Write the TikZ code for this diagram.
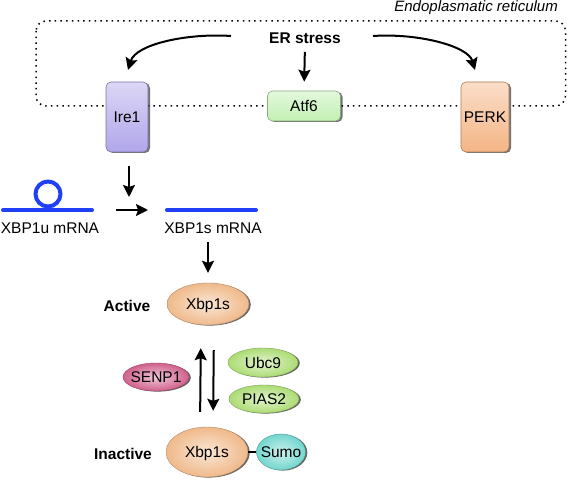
\documentclass[tikz,border=0pt]{standalone}
\usepackage{fontspec}
\setmainfont{Liberation Sans}
\usetikzlibrary{arrows.meta,shapes.geometric,shadows}
\definecolor{irec}{HTML}{B0A6EA}
\definecolor{atfc}{HTML}{C2F0B2}
\definecolor{perkc}{HTML}{F4B585}
\definecolor{xbpc}{HTML}{F0B98A}
\definecolor{senpc}{HTML}{D0608C}
\definecolor{ubcc}{HTML}{ACDC74}
\definecolor{sumoc}{HTML}{72D6CE}
\definecolor{rnac}{HTML}{2040F8}
\tikzset{
  txt/.style={font=\fontsize{15.5}{18}\selectfont, inner sep=0pt, text height=11pt, text depth=0pt},
  arr/.style={line width=2pt, -{Stealth[length=12pt,width=12pt,inset=2pt]}},
  boxnode/.style={txt, rectangle, rounded corners=5pt, draw=#1!70!black, line width=0.6pt,
    top color=#1!45!white, bottom color=#1, 
    drop shadow={shadow xshift=2pt, shadow yshift=-1pt, opacity=0.55, fill=black}},
  ellnode/.style={txt, ellipse, inner xsep=-7pt, inner ysep=-6pt, draw=#1!75!black, line width=0.4pt,
    inner color=#1!35!white, outer color=#1,
    drop shadow={shadow xshift=1.8pt, shadow yshift=-0.6pt, opacity=0.6, fill=black}},
  rna/.style={rnac, line width=4pt, line cap=round},
}
\begin{document}
\begin{tikzpicture}[x=1pt,y=-1pt]
\useasboundingbox (0,0) rectangle (567,481);
\fill[white] (0,0) rectangle (567,481);

% ER membrane
\draw[dash pattern=on 1.5pt off 4.2pt, line width=1.5pt, rounded corners=10pt] (36,21) rectangle (565.5,106);
\node[txt, font=\fontsize{15}{18}\selectfont\itshape, anchor=base east] (erlab) at (558,12) {Endoplasmatic reticulum};

\node[txt, font=\fontsize{15.5}{18}\selectfont\bfseries, anchor=base] (er) at (305,44) {ER stress};

\node[boxnode=irec, minimum width=42pt, minimum height=70pt] (ire) at (127,117) {Ire1};
\node[boxnode=atfc, minimum width=73pt, minimum height=30pt] (atf) at (304,106) {Atf6};
\node[boxnode=perkc, minimum width=48pt, minimum height=70pt] (perk) at (485,117) {PERK};

\coordinate (c1) at (231,36);
\coordinate (t1) at (128,70);
\coordinate (c2) at (373,36);
\coordinate (t2) at (475,70);
\draw[arr] (c1) .. controls (188,33) and (136,44) .. (t1);
\draw[arr] (c2) .. controls (418,33) and (468,46) .. (t2);
\draw[arr, shorten <=8pt, shorten >=9pt] (er.base) -- (atf.north);

% mRNA
\coordinate (u1) at (3,210);
\coordinate (u2) at (92,210);
\coordinate (s1) at (167,210);
\coordinate (s2) at (256,210);
\draw[rna] (u1) -- (u2);
\draw[rnac, line width=4pt] (48,194) circle[radius=12.5];
\draw[rna] (s1) -- (s2);
\node[txt, anchor=base] (xu) at (50,233) {XBP1u mRNA};
\node[txt, anchor=base] (xs) at (213,233) {XBP1s mRNA};

\coordinate (cut) at (129,197);
\draw[arr, shorten <=14pt] (ire.south -| cut) -- (cut);
\draw[arr, shorten <=24pt, shorten >=19pt] (u2) -- (s1);

% proteins
\node[ellnode=xbpc, minimum width=82pt, minimum height=42pt] (act) at (208,304) {Xbp1s};
\node[ellnode=xbpc, minimum width=82pt, minimum height=50pt] (inact) at (207,452) {Xbp1s};
\node[ellnode=sumoc, minimum width=49pt, minimum height=36pt] (sumo) at (281,452) {Sumo};
\node[ellnode=senpc, minimum width=66pt, minimum height=28pt] (senp) at (156,377) {SENP1};
\node[ellnode=ubcc, minimum width=70pt, minimum height=29pt] (ubc) at (263,362.5) {Ubc9};
\node[ellnode=ubcc, minimum width=70pt, minimum height=28pt] (pias) at (264,399) {PIAS2};

\node[txt, font=\fontsize{15.5}{18}\selectfont\bfseries, anchor=base] (actlab) at (127,311) {Active};
\node[txt, font=\fontsize{15.5}{18}\selectfont\bfseries, anchor=base] (inactlab) at (123,459) {Inactive};

\draw[arr, shorten <=9pt, shorten >=10pt] (act.north |- xs.base) -- (act.north);
\draw[arr, shorten <=15pt, shorten >=23pt] ([xshift=-7pt]inact.north) -- ([xshift=-7pt]act.south);
\draw[arr, shorten <=25pt, shorten >=16pt] ([xshift=6pt]act.south) -- ([xshift=6pt]inact.north);
\draw[line width=2pt] (inact.east) -- (sumo.west);
\end{tikzpicture}
\end{document}
